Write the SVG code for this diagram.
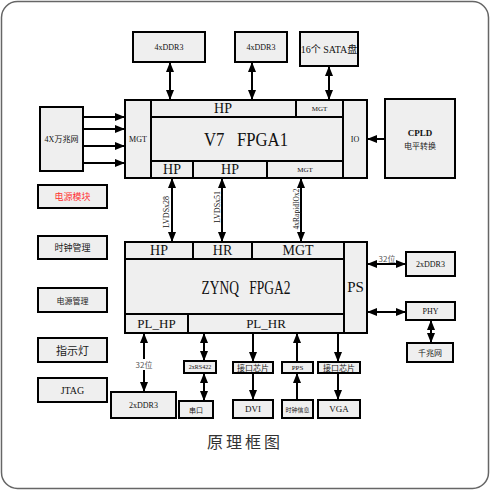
<svg xmlns="http://www.w3.org/2000/svg" width="490" height="490" viewBox="0 0 490 490">
<defs>
<marker id="ah" markerUnits="userSpaceOnUse" markerWidth="10" markerHeight="10" viewBox="0 0 10 10" refX="9" refY="5" orient="auto-start-reverse">
<path d="M0,1 L10,5 L0,9 Z" fill="#000"/>
</marker>
</defs>
<style>
.b{fill:#efefef;stroke:#000;stroke-width:2}
.t{font-family:"Liberation Serif","Noto Sans CJK SC",serif;fill:#111;text-anchor:middle;dominant-baseline:central}
.c{font-family:"Noto Sans CJK SC",sans-serif;fill:#222;text-anchor:middle;dominant-baseline:central}
.l{stroke:#000;stroke-width:2;fill:none}
.d{marker-start:url(#ah);marker-end:url(#ah)}
.e{marker-end:url(#ah)}
</style>
<rect x="1.5" y="1.5" width="487" height="487" rx="16" fill="#fff" stroke="#666" stroke-width="1.5"/>

<g id="ddr3a"><rect class="b" x="133" y="32" width="72" height="30"/><text class="t" x="169" y="47" font-size="8">4xDDR3</text></g>
<g id="ddr3b"><rect class="b" x="235" y="32" width="52" height="30"/><text class="t" x="261" y="47" font-size="8">4xDDR3</text></g>
<g id="sata"><rect class="b" x="300" y="32" width="58" height="34"/><text class="t" x="329" y="49" font-size="10">16个 SATA盘</text></g>
<g id="net10g"><rect class="b" x="40" y="107" width="43" height="64"/><text class="t" x="61.5" y="139" font-size="8">4X万兆网</text></g>
<g id="cpld"><rect class="b" x="385" y="99" width="70" height="79"/><text class="t" x="420" y="133" font-size="9" font-weight="bold">CPLD</text><text class="c" x="420" y="145" font-size="8">电平转换</text></g>

<g id="v7">
<rect class="b" x="125" y="100" width="242" height="78"/>
<rect class="b" x="125" y="100" width="26" height="78"/><text class="t" x="138" y="139" font-size="8">MGT</text>
<rect class="b" x="151" y="100" width="145" height="17"/><text class="t" x="223" y="108.5" font-size="14">HP</text>
<rect class="b" x="296" y="100" width="47" height="17"/><text class="t" x="319.5" y="108.5" font-size="7">MGT</text>
<rect class="b" x="343" y="100" width="24" height="78"/><text class="t" x="355" y="139" font-size="8">IO</text>
<rect class="b" x="151" y="117" width="192" height="44"/><text class="t" x="246" y="139" font-size="19" textLength="84" lengthAdjust="spacingAndGlyphs" xml:space="preserve">V7   FPGA1</text>
<rect class="b" x="151" y="161" width="42" height="17"/><text class="t" x="172" y="169.5" font-size="14">HP</text>
<rect class="b" x="193" y="161" width="74" height="17"/><text class="t" x="230" y="169.5" font-size="14">HP</text>
<rect class="b" x="267" y="161" width="76" height="17"/><text class="t" x="305" y="169.5" font-size="7">MGT</text>
</g>

<g id="zynq">
<rect class="b" x="125" y="242" width="242" height="91"/>
<rect class="b" x="125" y="242" width="68" height="17"/><text class="t" x="159" y="250.5" font-size="14">HP</text>
<rect class="b" x="193" y="242" width="59" height="17"/><text class="t" x="222.5" y="250.5" font-size="14">HR</text>
<rect class="b" x="252" y="242" width="92" height="17"/><text class="t" x="298" y="250.5" font-size="14">MGT</text>
<rect class="b" x="344" y="242" width="23" height="91"/><text class="t" x="355.5" y="287" font-size="15">PS</text>
<rect class="b" x="125" y="259" width="219" height="55"/><text class="t" x="246" y="287" font-size="19" textLength="89" lengthAdjust="spacingAndGlyphs" xml:space="preserve">ZYNQ   FPGA2</text>
<rect class="b" x="125" y="314" width="63" height="19"/><text class="t" x="156.5" y="323.5" font-size="13">PL_HP</text>
<rect class="b" x="188" y="314" width="156" height="19"/><text class="t" x="266" y="323.5" font-size="13">PL_HR</text>
</g>

<g id="ddr3c"><rect class="b" x="406" y="252" width="49" height="24"/><text class="t" x="430.5" y="264" font-size="8">2xDDR3</text></g>
<g id="phy"><rect class="b" x="406" y="302" width="49" height="18"/><text class="t" x="430.5" y="311" font-size="8">PHY</text></g>
<g id="gige"><rect class="b" x="407" y="343" width="46" height="19"/><text class="c" x="430" y="352.5" font-size="8">千兆网</text></g>

<g id="ddr3d"><rect class="b" x="111" y="392" width="65" height="26"/><text class="t" x="143.5" y="405" font-size="8">2xDDR3</text></g>
<g id="rs422"><rect class="b" x="184" y="361" width="32" height="12"/><text class="t" x="200" y="367" font-size="6">2xRS422</text></g>
<g id="uart"><rect class="b" x="179" y="401" width="34" height="17"/><text class="c" x="196" y="409.5" font-size="7">串口</text></g>
<g id="ifchip1"><rect class="b" x="233" y="362" width="40" height="11"/><text class="c" x="253" y="367.5" font-size="8">接口芯片</text></g>
<g id="dvi"><rect class="b" x="233" y="400" width="40" height="18"/><text class="t" x="253" y="409" font-size="9">DVI</text></g>
<g id="pps"><rect class="b" x="282" y="362" width="31" height="11"/><text class="t" x="297.5" y="367.5" font-size="7">PPS</text></g>
<g id="clkinfo"><rect class="b" x="282" y="400" width="31" height="18"/><text class="c" x="297.5" y="409" font-size="6">时钟信息</text></g>
<g id="ifchip2"><rect class="b" x="318" y="362" width="42" height="11"/><text class="c" x="339" y="367.5" font-size="8">接口芯片</text></g>
<g id="vga"><rect class="b" x="318" y="400" width="42" height="18"/><text class="t" x="339" y="409" font-size="9">VGA</text></g>

<g id="power"><rect class="b" x="38" y="185" width="69" height="23"/><text class="c" x="72.5" y="196.5" font-size="9" style="fill:#ff3030">电源模块</text></g>
<g id="clock"><rect class="b" x="38" y="236" width="69" height="23"/><text class="c" x="72.5" y="247.5" font-size="9">时钟管理</text></g>
<g id="pmgmt"><rect class="b" x="38" y="288" width="69" height="24"/><text class="c" x="72.5" y="300" font-size="8">电源管理</text></g>
<g id="led"><rect class="b" x="38" y="338" width="69" height="24"/><text class="c" x="72.5" y="350" font-size="11">指示灯</text></g>
<g id="jtag"><rect class="b" x="38" y="378" width="69" height="24"/><text class="t" x="72.5" y="390" font-size="10">JTAG</text></g>

<g id="connectors">
<line class="l d" x1="170" y1="63" x2="170" y2="99"/>
<line class="l d" x1="252" y1="63" x2="252" y2="99"/>
<line class="l d" x1="329" y1="67" x2="329" y2="99"/>
<line class="l e" x1="84" y1="117" x2="124" y2="117"/>
<line class="l e" x1="84" y1="129" x2="124" y2="129"/>
<line class="l e" x1="84" y1="146" x2="124" y2="146"/>
<line class="l e" x1="84" y1="163" x2="124" y2="163"/>
<line class="l e" x1="384" y1="139" x2="368" y2="139"/>
<line class="l d" x1="172" y1="179" x2="172" y2="241"/>
<line class="l d" x1="222" y1="179" x2="222" y2="241"/>
<line class="l d" x1="301" y1="179" x2="301" y2="241"/>
<line class="l d" x1="368" y1="264" x2="405" y2="264"/>
<line class="l d" x1="368" y1="312" x2="405" y2="312"/>
<line class="l d" x1="431" y1="321" x2="431" y2="342"/>
<line class="l d" x1="144" y1="334" x2="144" y2="391"/>
<line class="l d" x1="204" y1="334" x2="204" y2="360"/>
<line class="l d" x1="204" y1="374" x2="204" y2="400"/>
<line class="l e" x1="253" y1="334" x2="253" y2="361"/>
<line class="l e" x1="253" y1="374" x2="253" y2="399"/>
<line class="l e" x1="297" y1="361" x2="297" y2="334"/>
<line class="l e" x1="297" y1="399" x2="297" y2="374"/>
<line class="l e" x1="338" y1="334" x2="338" y2="361"/>
<line class="l e" x1="338" y1="374" x2="338" y2="399"/>
<text class="t" font-size="8" transform="translate(166 212) rotate(-90)">LVDSx28</text>
<text class="t" font-size="8" transform="translate(217 207) rotate(-90)">LVDSx51</text>
<text class="t" font-size="7.5" transform="translate(296 209) rotate(-90)">4xRapidIOx2</text>
<rect x="136" y="359" width="16" height="11" fill="#fff"/>
<text class="c" x="144" y="364.5" font-size="8" style="fill:#555">32位</text>
<text class="c" x="387" y="258" font-size="8" style="fill:#555">32位</text>
</g>

<text x="245" y="441" font-family="Noto Sans CJK SC, sans-serif" font-size="16" letter-spacing="3" fill="#333" text-anchor="middle" dominant-baseline="central">原理框图</text>
</svg>
